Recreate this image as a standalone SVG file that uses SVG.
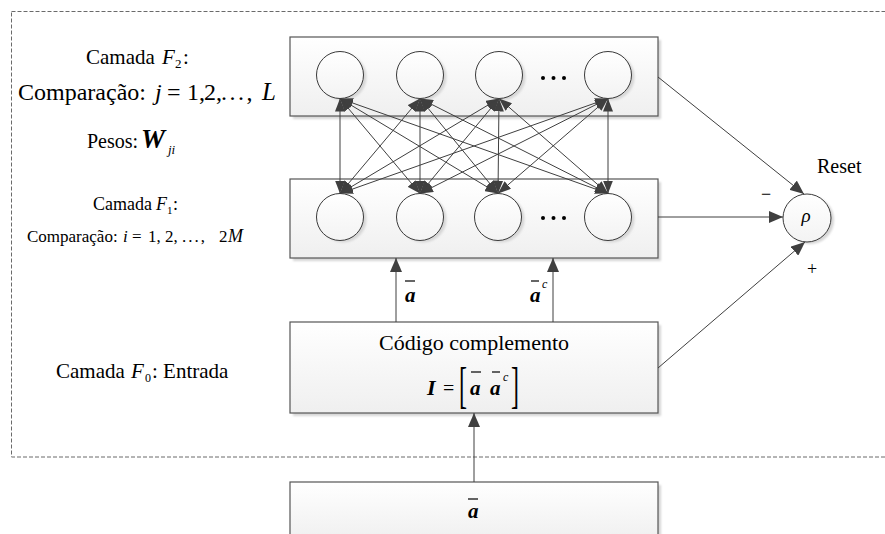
<svg xmlns="http://www.w3.org/2000/svg" width="885" height="534" viewBox="0 0 885 534">
  <style>
    .t { font-family: "Liberation Serif", "Times New Roman", serif; fill: #000; }
    .i { font-style: italic; }
    .bi { font-style: italic; font-weight: bold; }
    .box { fill: url(#boxFill); stroke: #555; stroke-width: 1.2; }
    .shade { fill: #d6d6d6; filter: url(#soft); }
    .node { fill: url(#nodeFill); stroke: #3a3a3a; stroke-width: 1; }
    .wire { stroke: #3f3f3f; stroke-width: 1; fill: none; }
    .bar { stroke: #000; stroke-width: 1.2; }
    .frame { fill: none; stroke: #6a6a6a; stroke-width: 1; stroke-dasharray: 4 2; }
  </style>
  <defs>
    <linearGradient id="boxFill" x1="0" y1="0" x2="0" y2="1">
      <stop offset="0" stop-color="#ffffff"/>
      <stop offset="1" stop-color="#efefef"/>
    </linearGradient>
    <linearGradient id="nodeFill" x1="0" y1="0" x2="0" y2="1">
      <stop offset="0" stop-color="#ffffff"/>
      <stop offset="1" stop-color="#f3f3f3"/>
    </linearGradient>
    <filter id="soft" x="-10%" y="-10%" width="120%" height="120%">
      <feGaussianBlur stdDeviation="0.8"/>
    </filter>
    <marker id="ah" viewBox="0 0 13 10" refX="13" refY="5" markerWidth="13" markerHeight="10" markerUnits="userSpaceOnUse" orient="auto-start-reverse">
      <path d="M0,0 L13,5 L0,10 z" fill="#3f3f3f"/>
    </marker>
    <marker id="ahBig" viewBox="0 0 14 12" refX="14" refY="6" markerWidth="14" markerHeight="12" markerUnits="userSpaceOnUse" orient="auto">
      <path d="M0,0 L14,6 L0,12 z" fill="#3f3f3f"/>
    </marker>
  </defs>

  <!-- dashed frame around the ART layers -->
  <rect class="frame" x="11.5" y="11.5" width="880" height="445.5"/>

  <!-- F2 layer -->
  <g id="f2-layer">
    <rect class="shade" x="293" y="40" width="368" height="79"/>
    <rect class="box" x="290" y="37" width="368" height="79"/>
  </g>
  <g id="f2-n1"><circle class="shade" cx="343" cy="77" r="23.5"/><circle class="node" cx="340" cy="75" r="23.5"/></g>
  <g id="f2-n2"><circle class="shade" cx="423" cy="77" r="23.5"/><circle class="node" cx="420" cy="75" r="23.5"/></g>
  <g id="f2-n3"><circle class="shade" cx="502" cy="77" r="23.5"/><circle class="node" cx="499" cy="75" r="23.5"/></g>
  <g id="f2-dots"><circle cx="543" cy="78" r="2"/><circle cx="553.5" cy="78" r="2"/><circle cx="564" cy="78" r="2"/></g>
  <g id="f2-n4"><circle class="shade" cx="611" cy="77" r="23.5"/><circle class="node" cx="608" cy="75" r="23.5"/></g>

  <!-- F1 layer -->
  <g id="f1-layer">
    <rect class="shade" x="293" y="182" width="368" height="79"/>
    <rect class="box" x="290" y="179" width="368" height="79"/>
  </g>
  <g id="f1-n1"><circle class="shade" cx="343" cy="219" r="23.5"/><circle class="node" cx="340" cy="217" r="23.5"/></g>
  <g id="f1-n2"><circle class="shade" cx="423" cy="219" r="23.5"/><circle class="node" cx="420" cy="217" r="23.5"/></g>
  <g id="f1-n3"><circle class="shade" cx="501" cy="219" r="23.5"/><circle class="node" cx="498" cy="217" r="23.5"/></g>
  <g id="f1-dots"><circle cx="543" cy="218" r="2"/><circle cx="553.5" cy="218" r="2"/><circle cx="564" cy="218" r="2"/></g>
  <g id="f1-n4"><circle class="shade" cx="611" cy="219" r="23.5"/><circle class="node" cx="608" cy="217" r="23.5"/></g>

  <!-- F0 layer: complement coding -->
  <g id="f0-box">
    <rect class="shade" x="293" y="325" width="368" height="91"/>
    <rect class="box" x="290" y="322" width="368" height="91"/>
    <text class="t" x="474" y="350" font-size="22" text-anchor="middle">Código complemento</text>
    <text class="t bi" x="427" y="395" font-size="22">I</text>
    <text class="t" x="443" y="395" font-size="20">=</text>
    <text class="t" font-size="30" transform="translate(459,402) scale(0.8,1.7)">[</text>
    <text class="t bi" x="470" y="395" font-size="21">a</text>
    <line class="bar" x1="471" y1="372" x2="481" y2="372"/>
    <text class="t bi" x="490" y="395" font-size="21">a</text>
    <line class="bar" x1="492" y1="372" x2="500" y2="372"/>
    <text class="t i" x="503" y="381" font-size="12">c</text>
    <text class="t" font-size="30" transform="translate(511,402) scale(0.8,1.7)">]</text>
  </g>

  <!-- input vector -->
  <g id="input-box">
    <rect class="shade" x="293" y="485" width="368" height="60"/>
    <rect class="box" x="290" y="482" width="368" height="60"/>
    <text class="t bi" x="468" y="518" font-size="21">a</text>
    <line class="bar" x1="468" y1="499" x2="478" y2="499"/>
  </g>

  <!-- reset node -->
  <g id="rho">
    <circle class="shade" cx="810" cy="220" r="24"/>
    <circle class="node" cx="807" cy="218" r="24"/>
    <text class="t i" x="806" y="222" font-size="19" text-anchor="middle">ρ</text>
  </g>

  <!-- connectors -->
  <g id="connectors">
    <!-- F2 <-> F1 full bidirectional connections -->
    <g class="wire" marker-start="url(#ah)" marker-end="url(#ah)">
      <line x1="340" y1="98.5" x2="340" y2="193.5"/>
      <line x1="340" y1="98.5" x2="420" y2="193.5"/>
      <line x1="340" y1="98.5" x2="498" y2="193.5"/>
      <line x1="340" y1="98.5" x2="608" y2="193.5"/>
      <line x1="420" y1="98.5" x2="340" y2="193.5"/>
      <line x1="420" y1="98.5" x2="420" y2="193.5"/>
      <line x1="420" y1="98.5" x2="498" y2="193.5"/>
      <line x1="420" y1="98.5" x2="608" y2="193.5"/>
      <line x1="499" y1="98.5" x2="340" y2="193.5"/>
      <line x1="499" y1="98.5" x2="420" y2="193.5"/>
      <line x1="499" y1="98.5" x2="498" y2="193.5"/>
      <line x1="499" y1="98.5" x2="608" y2="193.5"/>
      <line x1="608" y1="98.5" x2="340" y2="193.5"/>
      <line x1="608" y1="98.5" x2="420" y2="193.5"/>
      <line x1="608" y1="98.5" x2="498" y2="193.5"/>
      <line x1="608" y1="98.5" x2="608" y2="193.5"/>
    </g>
    <!-- F0 -> F1 -->
    <line class="wire" x1="396" y1="322" x2="396" y2="258" marker-end="url(#ahBig)"/>
    <line class="wire" x1="553" y1="322" x2="553" y2="258" marker-end="url(#ahBig)"/>
    <!-- input -> F0 -->
    <line class="wire" x1="474" y1="482" x2="474" y2="413" marker-end="url(#ahBig)"/>
    <!-- layers -> reset -->
    <line class="wire" x1="658" y1="77" x2="804" y2="194" marker-end="url(#ahBig)"/>
    <line class="wire" x1="658" y1="217" x2="783" y2="217" marker-end="url(#ahBig)"/>
    <line class="wire" x1="658" y1="368" x2="805" y2="242" marker-end="url(#ahBig)"/>
  </g>

  <!-- edge labels -->
  <g id="edge-labels">
    <text class="t bi" x="405" y="302" font-size="21">a</text>
    <line class="bar" x1="405" y1="281" x2="415" y2="281"/>
    <text class="t bi" x="530" y="302" font-size="21">a</text>
    <line class="bar" x1="531" y1="281" x2="539" y2="281"/>
    <text class="t i" x="542" y="288" font-size="12">c</text>
    <text class="t" x="766" y="200" font-size="18" text-anchor="middle">−</text>
    <text class="t" x="812" y="275" font-size="18" text-anchor="middle">+</text>
    <text class="t" x="817" y="173" font-size="20">Reset</text>
  </g>

  <!-- layer captions -->
  <g id="captions">
    <text class="t" y="64" font-size="21"><tspan x="86">Camada</tspan><tspan class="i" x="162">F</tspan><tspan font-size="13" x="175" dy="4">2</tspan><tspan x="183" dy="-4">:</tspan></text>
    <text class="t" y="100" font-size="24"><tspan x="18">Comparação:</tspan><tspan class="i" x="155">j</tspan><tspan x="167">=</tspan><tspan x="187">1,</tspan><tspan x="204">2,</tspan><tspan x="221" letter-spacing="2.5">...,</tspan><tspan class="i" x="262" font-size="25">L</tspan></text>
    <text class="t" y="148" font-size="20"><tspan x="87">Pesos:</tspan><tspan class="bi" x="141" font-size="27">W</tspan><tspan class="i" font-size="13" dy="6" x="168">ji</tspan></text>
    <text class="t" y="210" font-size="18"><tspan x="93">Camada</tspan><tspan class="i" x="156">F</tspan><tspan font-size="11" x="167" dy="4">1</tspan><tspan x="173" dy="-4">:</tspan></text>
    <text class="t" y="242" font-size="17"><tspan x="27">Comparação:</tspan><tspan class="i" x="123">i</tspan><tspan x="132">=</tspan><tspan x="148">1,</tspan><tspan x="165">2,</tspan><tspan x="182" letter-spacing="2">...,</tspan><tspan x="219">2</tspan><tspan class="i" x="228" font-size="18">M</tspan></text>
    <text class="t" y="378" font-size="21"><tspan x="56">Camada</tspan><tspan class="i" x="131">F</tspan><tspan font-size="12" x="145" dy="4">0</tspan><tspan x="152" dy="-4">: Entrada</tspan></text>
  </g>
</svg>
